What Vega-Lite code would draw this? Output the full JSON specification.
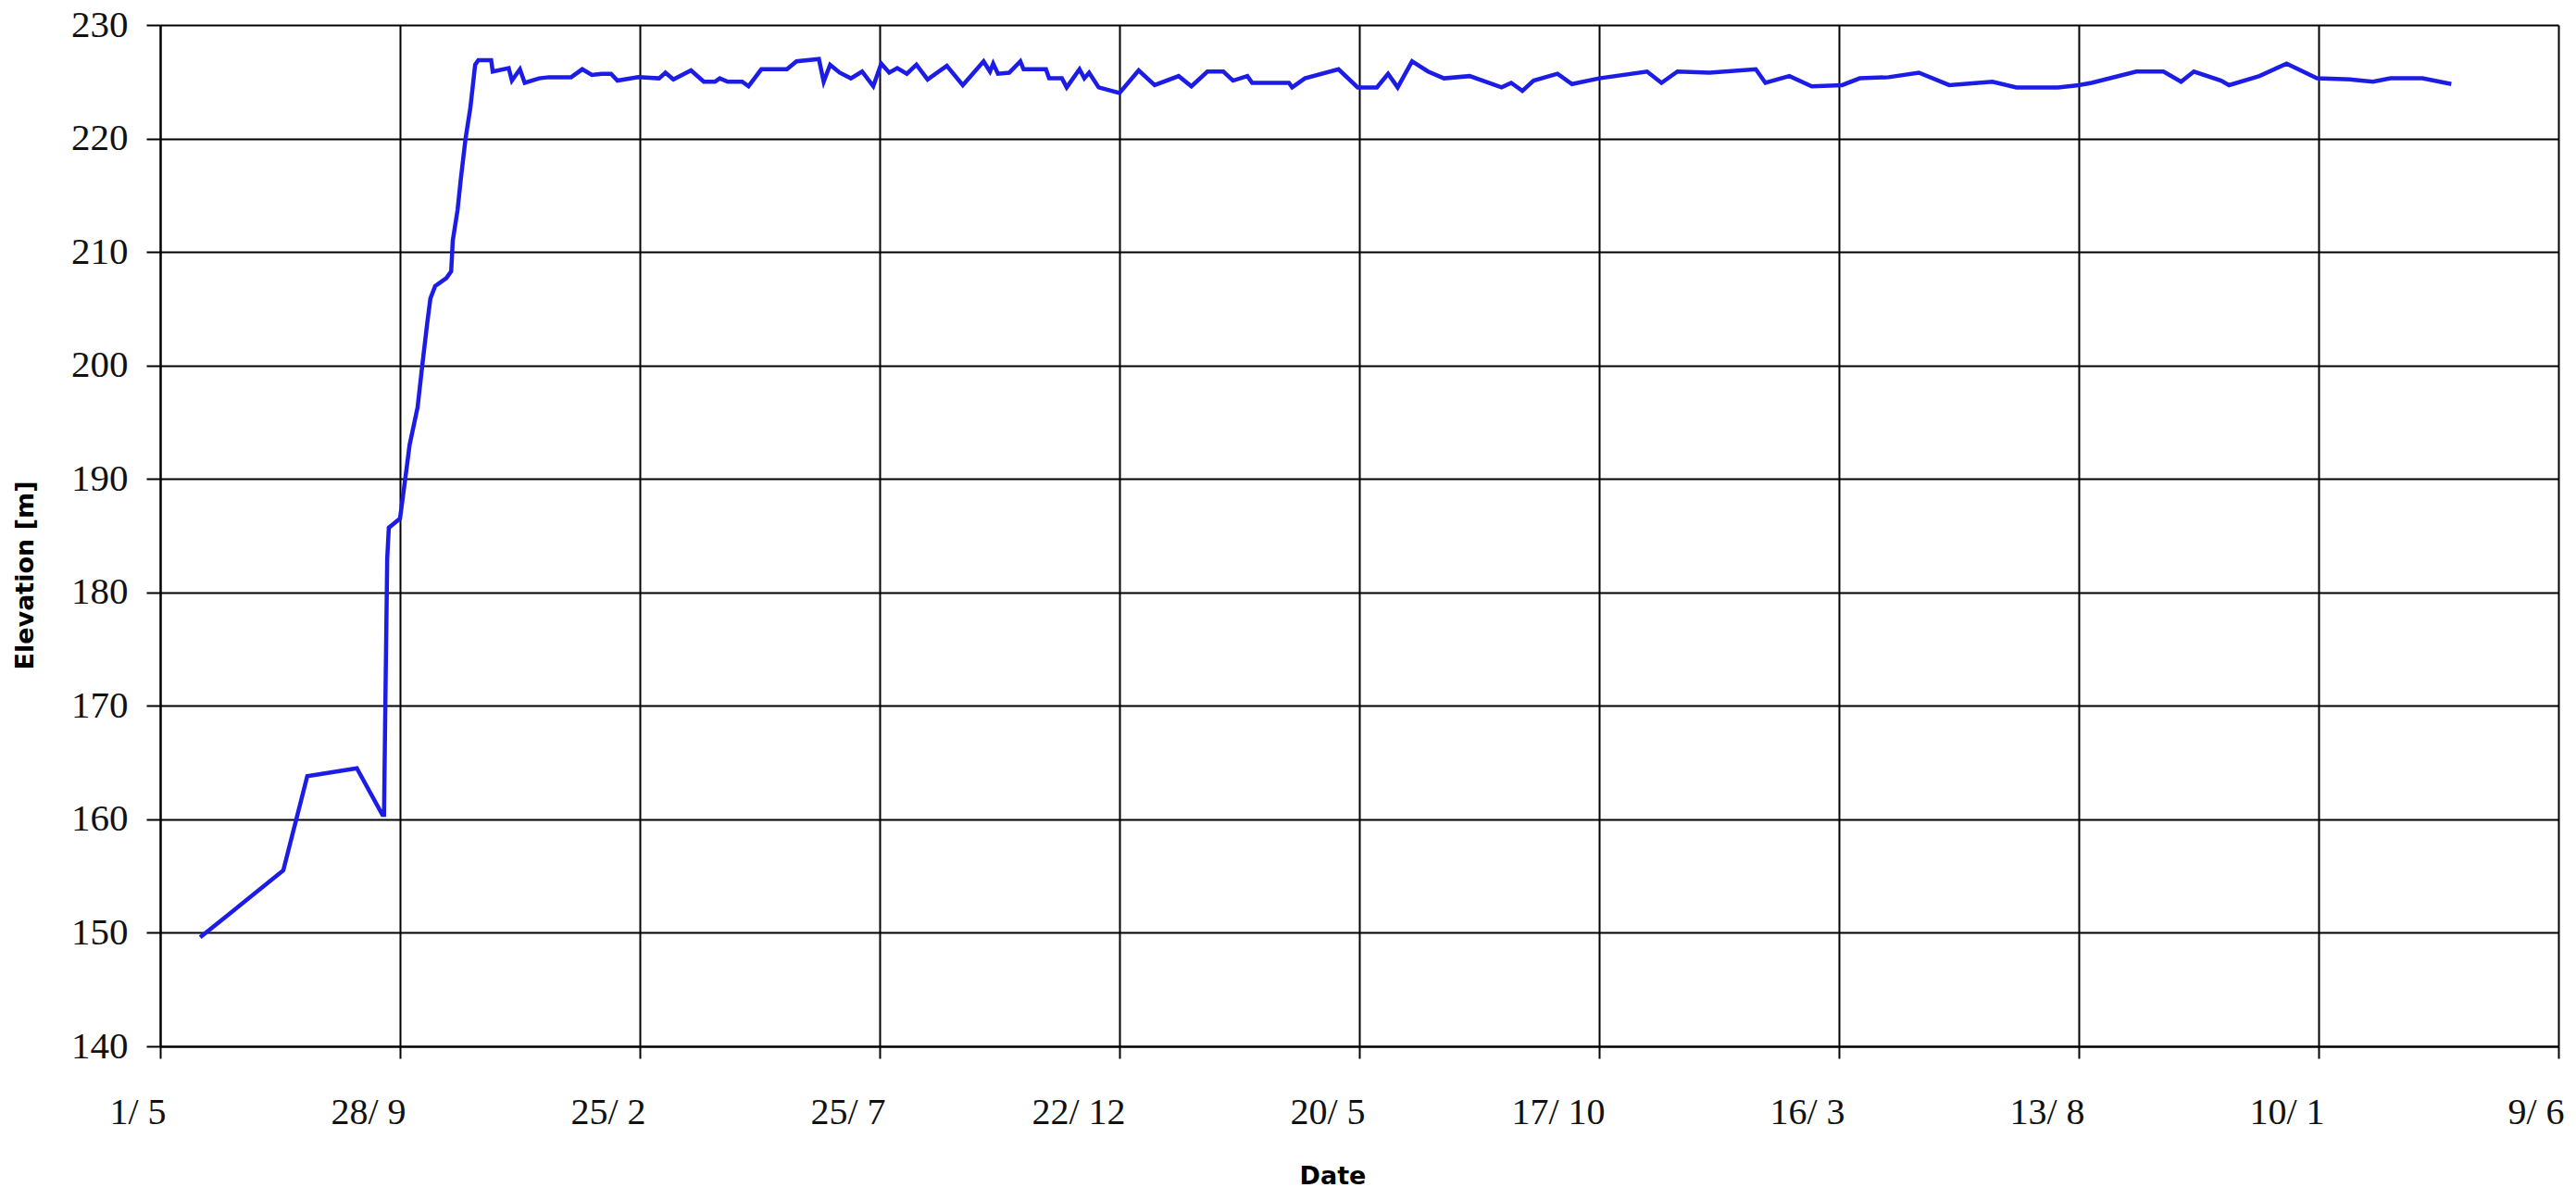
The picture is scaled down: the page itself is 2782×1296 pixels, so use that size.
{
  "$schema": "https://vega.github.io/schema/vega-lite/v6.json",
  "autosize": {"type": "none"},
  "width": 2590,
  "height": 1103,
  "padding": {"left": 173, "top": 27, "right": 19, "bottom": 166},
  "background": "white",
  "config": {"view": {"stroke": null}},
  "data": {"values": [
    {"date": "2006-05-26", "elev": 149.6},
    {"date": "2006-07-17", "elev": 155.5},
    {"date": "2006-08-01", "elev": 163.8},
    {"date": "2006-09-01", "elev": 164.5},
    {"date": "2006-09-17", "elev": 160.4},
    {"date": "2006-09-18", "elev": 160.4},
    {"date": "2006-09-19", "elev": 172.0},
    {"date": "2006-09-20", "elev": 183.0},
    {"date": "2006-09-21", "elev": 185.7},
    {"date": "2006-09-28", "elev": 186.5},
    {"date": "2006-10-02", "elev": 190.8},
    {"date": "2006-10-04", "elev": 193.0},
    {"date": "2006-10-09", "elev": 196.3},
    {"date": "2006-10-12", "elev": 200.1},
    {"date": "2006-10-15", "elev": 203.7},
    {"date": "2006-10-17", "elev": 205.9},
    {"date": "2006-10-20", "elev": 207.0},
    {"date": "2006-10-27", "elev": 207.7},
    {"date": "2006-10-30", "elev": 208.3},
    {"date": "2006-10-31", "elev": 211.0},
    {"date": "2006-11-03", "elev": 213.7},
    {"date": "2006-11-05", "elev": 216.4},
    {"date": "2006-11-08", "elev": 220.0},
    {"date": "2006-11-11", "elev": 222.7},
    {"date": "2006-11-14", "elev": 226.5},
    {"date": "2006-11-16", "elev": 226.9},
    {"date": "2006-11-24", "elev": 226.9},
    {"date": "2006-11-25", "elev": 225.9},
    {"date": "2006-12-05", "elev": 226.2},
    {"date": "2006-12-07", "elev": 225.1},
    {"date": "2006-12-12", "elev": 226.1},
    {"date": "2006-12-15", "elev": 224.9},
    {"date": "2006-12-24", "elev": 225.3},
    {"date": "2006-12-30", "elev": 225.4},
    {"date": "2007-01-13", "elev": 225.4},
    {"date": "2007-01-20", "elev": 226.1},
    {"date": "2007-01-26", "elev": 225.6},
    {"date": "2007-02-01", "elev": 225.7},
    {"date": "2007-02-07", "elev": 225.7},
    {"date": "2007-02-11", "elev": 225.1},
    {"date": "2007-02-24", "elev": 225.4},
    {"date": "2007-03-09", "elev": 225.3},
    {"date": "2007-03-13", "elev": 225.8},
    {"date": "2007-03-18", "elev": 225.2},
    {"date": "2007-03-29", "elev": 226.0},
    {"date": "2007-04-06", "elev": 225.0},
    {"date": "2007-04-13", "elev": 225.0},
    {"date": "2007-04-16", "elev": 225.3},
    {"date": "2007-04-21", "elev": 225.0},
    {"date": "2007-04-30", "elev": 225.0},
    {"date": "2007-05-04", "elev": 224.6},
    {"date": "2007-05-12", "elev": 226.1},
    {"date": "2007-05-28", "elev": 226.1},
    {"date": "2007-06-03", "elev": 226.8},
    {"date": "2007-06-17", "elev": 227.0},
    {"date": "2007-06-20", "elev": 225.0},
    {"date": "2007-06-24", "elev": 226.5},
    {"date": "2007-06-30", "elev": 225.8},
    {"date": "2007-07-07", "elev": 225.3},
    {"date": "2007-07-14", "elev": 225.9},
    {"date": "2007-07-21", "elev": 224.6},
    {"date": "2007-07-26", "elev": 226.6},
    {"date": "2007-07-31", "elev": 225.8},
    {"date": "2007-08-05", "elev": 226.2},
    {"date": "2007-08-11", "elev": 225.7},
    {"date": "2007-08-17", "elev": 226.5},
    {"date": "2007-08-24", "elev": 225.2},
    {"date": "2007-09-05", "elev": 226.4},
    {"date": "2007-09-15", "elev": 224.7},
    {"date": "2007-09-28", "elev": 226.8},
    {"date": "2007-10-02", "elev": 225.9},
    {"date": "2007-10-04", "elev": 226.6},
    {"date": "2007-10-07", "elev": 225.7},
    {"date": "2007-10-14", "elev": 225.8},
    {"date": "2007-10-21", "elev": 226.8},
    {"date": "2007-10-23", "elev": 226.1},
    {"date": "2007-11-06", "elev": 226.1},
    {"date": "2007-11-08", "elev": 225.3},
    {"date": "2007-11-16", "elev": 225.3},
    {"date": "2007-11-19", "elev": 224.5},
    {"date": "2007-11-27", "elev": 226.1},
    {"date": "2007-11-30", "elev": 225.3},
    {"date": "2007-12-03", "elev": 225.8},
    {"date": "2007-12-09", "elev": 224.5},
    {"date": "2007-12-22", "elev": 224.0},
    {"date": "2008-01-03", "elev": 226.0},
    {"date": "2008-01-13", "elev": 224.7},
    {"date": "2008-01-28", "elev": 225.5},
    {"date": "2008-02-05", "elev": 224.6},
    {"date": "2008-02-15", "elev": 225.9},
    {"date": "2008-02-25", "elev": 225.9},
    {"date": "2008-03-02", "elev": 225.1},
    {"date": "2008-03-11", "elev": 225.5},
    {"date": "2008-03-14", "elev": 224.9},
    {"date": "2008-04-06", "elev": 224.9},
    {"date": "2008-04-08", "elev": 224.5},
    {"date": "2008-04-16", "elev": 225.3},
    {"date": "2008-05-07", "elev": 226.1},
    {"date": "2008-05-19", "elev": 224.5},
    {"date": "2008-05-31", "elev": 224.5},
    {"date": "2008-06-07", "elev": 225.7},
    {"date": "2008-06-13", "elev": 224.5},
    {"date": "2008-06-22", "elev": 226.8},
    {"date": "2008-07-02", "elev": 225.9},
    {"date": "2008-07-12", "elev": 225.3},
    {"date": "2008-07-28", "elev": 225.5},
    {"date": "2008-08-17", "elev": 224.5},
    {"date": "2008-08-23", "elev": 224.9},
    {"date": "2008-08-30", "elev": 224.2},
    {"date": "2008-09-06", "elev": 225.1},
    {"date": "2008-09-21", "elev": 225.7},
    {"date": "2008-09-30", "elev": 224.8},
    {"date": "2008-10-17", "elev": 225.3},
    {"date": "2008-11-16", "elev": 225.9},
    {"date": "2008-11-25", "elev": 224.9},
    {"date": "2008-12-05", "elev": 225.9},
    {"date": "2008-12-25", "elev": 225.8},
    {"date": "2009-01-23", "elev": 226.1},
    {"date": "2009-01-29", "elev": 224.9},
    {"date": "2009-02-13", "elev": 225.5},
    {"date": "2009-02-27", "elev": 224.6},
    {"date": "2009-03-18", "elev": 224.7},
    {"date": "2009-03-29", "elev": 225.3},
    {"date": "2009-04-16", "elev": 225.4},
    {"date": "2009-05-05", "elev": 225.8},
    {"date": "2009-05-24", "elev": 224.7},
    {"date": "2009-06-20", "elev": 225.0},
    {"date": "2009-07-05", "elev": 224.5},
    {"date": "2009-07-31", "elev": 224.5},
    {"date": "2009-08-13", "elev": 224.7},
    {"date": "2009-08-21", "elev": 224.9},
    {"date": "2009-09-18", "elev": 225.9},
    {"date": "2009-10-05", "elev": 225.9},
    {"date": "2009-10-16", "elev": 225.0},
    {"date": "2009-10-24", "elev": 225.9},
    {"date": "2009-11-10", "elev": 225.1},
    {"date": "2009-11-15", "elev": 224.7},
    {"date": "2009-12-04", "elev": 225.5},
    {"date": "2009-12-21", "elev": 226.6},
    {"date": "2010-01-09", "elev": 225.3},
    {"date": "2010-01-30", "elev": 225.2},
    {"date": "2010-02-13", "elev": 225.0},
    {"date": "2010-02-24", "elev": 225.3},
    {"date": "2010-03-16", "elev": 225.3},
    {"date": "2010-04-03", "elev": 224.8}
  ]},
  "mark": {"type": "line", "color": "#1c1ce6", "strokeWidth": 4.5, "strokeJoin": "miter", "clip": true},
  "encoding": {
    "x": {
      "field": "date",
      "type": "temporal",
      "title": "Date",
      "scale": {
        "type": "utc",
        "domain": [
          {"year": 2006, "month": 5, "date": 1, "utc": true},
          {"year": 2010, "month": 6, "date": 9, "utc": true}
        ],
        "nice": false
      },
      "axis": {
        "values": [
          {"year": 2006, "month": 5, "date": 1, "utc": true},
          {"year": 2006, "month": 9, "date": 28, "utc": true},
          {"year": 2007, "month": 2, "date": 25, "utc": true},
          {"year": 2007, "month": 7, "date": 25, "utc": true},
          {"year": 2007, "month": 12, "date": 22, "utc": true},
          {"year": 2008, "month": 5, "date": 20, "utc": true},
          {"year": 2008, "month": 10, "date": 17, "utc": true},
          {"year": 2009, "month": 3, "date": 16, "utc": true},
          {"year": 2009, "month": 8, "date": 13, "utc": true},
          {"year": 2010, "month": 1, "date": 10, "utc": true},
          {"year": 2010, "month": 6, "date": 9, "utc": true}
        ],
        "format": "%-d/ %-m",
        "grid": true,
        "gridColor": "#000000",
        "gridWidth": 2,
        "gridOpacity": 1,
        "domainColor": "#000000",
        "domainWidth": 2,
        "tickColor": "#000000",
        "tickWidth": 2,
        "tickSize": 13,
        "labelFont": "Liberation Serif",
        "labelFontSize": 40,
        "labelColor": "#111111",
        "labelAlign": "right",
        "labelBaseline": "top",
        "labelOffset": 6,
        "labelPadding": 38,
        "labelFlush": false,
        "labelOverlap": false,
        "titleFont": "DejaVu Sans",
        "titleFontWeight": "bold",
        "titleFontSize": 27,
        "titleColor": "#000000",
        "titleX": 1266,
        "titleY": 140,
        "titleBaseline": "middle",
        "titleAlign": "center"
      }
    },
    "y": {
      "field": "elev",
      "type": "quantitative",
      "title": "Elevation [m]",
      "scale": {"domain": [140, 230], "nice": false, "zero": false},
      "axis": {
        "values": [140, 150, 160, 170, 180, 190, 200, 210, 220, 230],
        "grid": true,
        "gridColor": "#000000",
        "gridWidth": 2,
        "gridOpacity": 1,
        "domainColor": "#000000",
        "domainWidth": 2,
        "tickColor": "#000000",
        "tickWidth": 2,
        "tickSize": 15,
        "labelFont": "Liberation Serif",
        "labelFontSize": 41,
        "labelColor": "#111111",
        "labelPadding": 20,
        "labelFlush": false,
        "labelOverlap": false,
        "titleFont": "DejaVu Sans",
        "titleFontWeight": "bold",
        "titleFontSize": 27,
        "titleColor": "#000000",
        "titleAngle": -90,
        "titleX": -146,
        "titleY": 594,
        "titleBaseline": "middle",
        "titleAlign": "center"
      }
    }
  }
}
